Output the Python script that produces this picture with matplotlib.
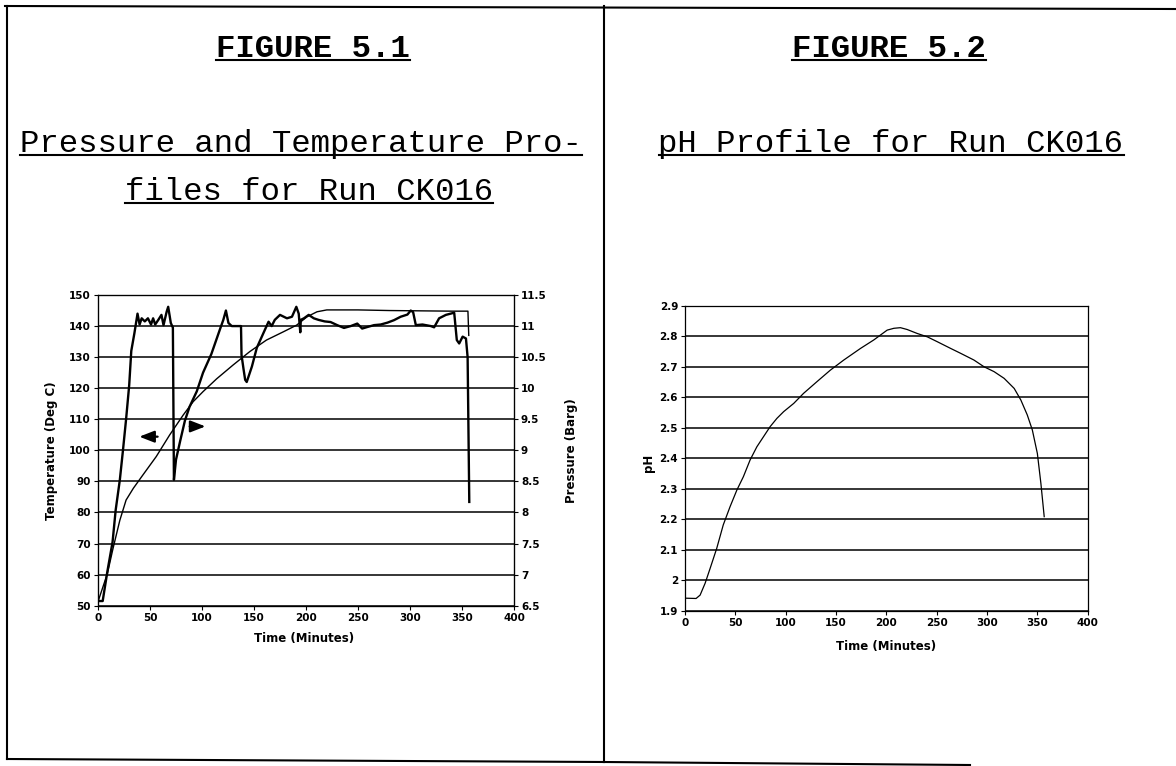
import matplotlib
matplotlib.use('Agg')
import matplotlib.pyplot as plt
from matplotlib.lines import Line2D
from matplotlib.ticker import FuncFormatter
import numpy as np

W, H = 1176, 766

# --- run CK016 data ---
temp_time = [0, 9, 14.5, 21, 27, 34, 43, 56, 69, 82, 91.6, 101, 114, 130, 146, 162,
             178.5, 191, 201, 210.6, 220, 250, 280, 310, 340, 355.7, 356.5]
temp_degc = [51.3, 60.3, 68.5, 77.5, 84, 87.8, 92, 98, 105, 111.4, 115.7, 118.9, 123, 127.5,
             131.8, 135.5, 138.2, 140.3, 143, 144.6, 145.2, 145.2, 145, 144.9, 144.8, 144.8, 137]

press_time = [0, 4.5, 9, 14, 17, 21, 24, 27, 30, 32, 35, 38, 40, 42, 45, 48, 51, 53, 55, 58,
              61, 63, 66, 67.5, 70, 72, 73, 75, 79, 83.6, 88, 95, 101, 109, 117, 120.5, 123,
              125.4, 128.6, 137.5, 138, 140, 141.5, 143, 148, 152.7, 159, 164, 167, 170, 175,
              181.7, 186.5, 190.7, 193, 194.5, 195, 198, 202.6, 207.5, 212, 218, 223.6, 230,
              236.5, 243, 249.3, 254, 259, 265.4, 271.8, 278.3, 284.6, 291, 297.5, 300.7, 303,
              305.6, 312, 320, 323.2, 328, 334.5, 342.5, 345, 347.3, 350.6, 353.8, 355.4, 357]
press_barg = [6.575, 6.575, 7.05, 7.525, 8.04, 8.525, 9.0, 9.5, 10.05, 10.6, 10.885, 11.2,
              11.025, 11.125, 11.075, 11.125, 11.025, 11.125, 11.025, 11.1, 11.18, 11.015,
              11.23, 11.31, 11.05, 10.975, 8.525, 8.85, 9.15, 9.48, 9.7, 9.95, 10.25, 10.55,
              10.935, 11.1, 11.25, 11.05, 11.0, 11.0, 10.535, 10.3, 10.135, 10.1, 10.35, 10.65,
              10.885, 11.07, 11.0, 11.1, 11.18, 11.125, 11.15, 11.31, 11.2, 10.9, 11.1, 11.125,
              11.18, 11.125, 11.1, 11.075, 11.065, 11.015, 10.97, 11.0, 11.04, 10.96, 10.985,
              11.015, 11.025, 11.055, 11.095, 11.15, 11.185, 11.25, 11.225, 11.015, 11.025,
              11.0, 10.98, 11.125, 11.18, 11.215, 10.775, 10.72, 10.83, 10.8, 10.5, 8.17]

ph_time = [0, 11, 15, 20, 25, 31.5, 38, 44.8, 51.5, 58, 64.7, 71.4, 78, 84.6, 91.3, 98, 108,
           117.8, 131, 144.4, 157.7, 174.3, 187.6, 200.8, 207.5, 214, 220.7, 230.7, 240.7,
           250.6, 263.9, 273.8, 287, 297, 307, 317, 327, 333.6, 340, 345, 350, 353.5, 356.8]
ph_value = [1.942, 1.941, 1.952, 1.991, 2.04, 2.105, 2.182, 2.242, 2.296, 2.34, 2.395, 2.438,
            2.471, 2.504, 2.531, 2.553, 2.58, 2.613, 2.651, 2.689, 2.722, 2.76, 2.788, 2.82,
            2.826, 2.828, 2.822, 2.809, 2.798, 2.782, 2.76, 2.744, 2.722, 2.7, 2.684, 2.662,
            2.629, 2.591, 2.542, 2.493, 2.416, 2.318, 2.209]

time_ticks = list(range(0, 401, 50))
temp_ticks = list(range(50, 151, 10))
press_ticks = list(np.arange(6.5, 11.51, 0.5))
ph_ticks = list(np.arange(1.9, 2.91, 0.1))


def px(x, y):
    # pixel position (from top-left) -> figure fraction
    return x / W, 1 - y / H


def rect(x0, y0, x1, y1):
    return [x0 / W, 1 - y1 / H, (x1 - x0) / W, (y1 - y0) / H]


fig = plt.figure(figsize=(W / 100, H / 100), dpi=100, facecolor='white')

LABEL_FONT = dict(family='DejaVu Sans', size=8.5, weight='bold')
g = FuncFormatter(lambda v, p: f'{v:g}')


def style(ax):
    ax.set_facecolor('none')
    for s in ax.spines.values():
        s.set_linewidth(0.9)
        s.set_color('black')
    ax.tick_params(direction='out', length=3, width=0.8, pad=2, colors='black', labelsize=7.5)
    ax.yaxis.grid(True, color='black', linewidth=1.1)
    ax.xaxis.grid(False)
    ax.set_axisbelow(True)


def bold_ticks(a):
    for lab in a.get_xticklabels() + a.get_yticklabels():
        lab.set_fontfamily('DejaVu Sans')
        lab.set_fontweight('bold')


# --- Figure 5.1: pressure and temperature ---
ax = fig.add_axes(rect(98, 295, 514, 605.7))
style(ax)
ax.plot(temp_time, temp_degc, color='black', lw=1.0)
ax.set_xlim(0, 400)
ax.set_ylim(50, 150)
ax.set_xticks(time_ticks)
ax.set_yticks(temp_ticks)
ax.set_xlabel('Time (Minutes)', **LABEL_FONT)
ax.set_ylabel('Temperature (Deg C)', **LABEL_FONT)
ax.xaxis.set_label_coords(0.495, -0.085)
ax.yaxis.set_label_coords(-0.096, 0.5)

ax2 = ax.twinx()
ax2.plot(press_time, press_barg, color='black', lw=1.7)
ax2.set_ylim(6.5, 11.5)
ax2.set_yticks(press_ticks)
ax2.yaxis.set_major_formatter(g)
ax2.tick_params(direction='out', length=3, width=0.8, pad=2, labelsize=7.5)
ax2.set_ylabel('Pressure (Barg)', **LABEL_FONT)
ax2.yaxis.set_label_coords(1.123, 0.5)

arrow = dict(arrowstyle='-|>,head_length=0.9,head_width=0.35', color='black', lw=1.6)
ax.annotate('', xy=(37, 104.4), xytext=(60, 104.4), arrowprops=arrow)
ax.annotate('', xy=(106, 107.7), xytext=(85.5, 107.7), arrowprops=arrow)

# --- Figure 5.2: pH ---
bx = fig.add_axes(rect(685, 305.7, 1087.7, 611))
style(bx)
bx.plot(ph_time, ph_value, color='black', lw=0.9)
bx.set_xlim(0, 400)
bx.set_ylim(1.9, 2.9)
bx.set_xticks(time_ticks)
bx.set_yticks(ph_ticks)
bx.yaxis.set_major_formatter(g)
bx.set_xlabel('Time (Minutes)', **LABEL_FONT)
bx.set_ylabel('pH', **LABEL_FONT)
bx.xaxis.set_label_coords(0.5, -0.095)
bx.yaxis.set_label_coords(-0.075, 0.485)

for a in (ax, ax2, bx):
    bold_ticks(a)

# --- page frame ---
frame = [((5, 6), (1176, 9)), ((7, 6), (7, 759)), ((604, 6), (604, 762)),
         ((7, 759), (604, 762)), ((604, 762), (970, 765))]
for (xa, ya), (xb, yb) in frame:
    (fx0, fy0), (fx1, fy1) = px(xa, ya), px(xb, yb)
    fig.add_artist(Line2D([fx0, fx1], [fy0, fy1], color='black', lw=1.5,
                          transform=fig.transFigure))

# --- underlined captions ---
captions = [('FIGURE 5.1', 313, 57, 'bold'),
            ('Pressure and Temperature Pro-', 301, 152, 'normal'),
            ('files for Run CK016', 309, 200, 'normal'),
            ('FIGURE 5.2', 889, 57, 'bold'),
            ('pH Profile for Run CK016', 891, 152, 'normal')]
texts = []
for s, cx, cy, wt in captions:
    t = fig.text(*px(cx, cy), s, ha='center', va='baseline', family='Liberation Mono',
                 fontsize=23.3, weight=wt, color='black')
    texts.append((t, cy))

fig.canvas.draw()
r = fig.canvas.get_renderer()
for t, cy in texts:
    bb = t.get_window_extent(r)
    uy = 1 - (cy + 3) / H
    fig.add_artist(Line2D([bb.x0 / W, bb.x1 / W], [uy, uy], color='black', lw=1.5,
                          transform=fig.transFigure))

fig.savefig('out.png', dpi=100, facecolor='white')
